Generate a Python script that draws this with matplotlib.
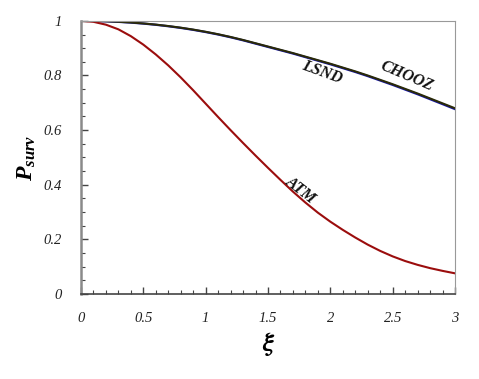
import matplotlib
matplotlib.use("Agg")
import matplotlib.pyplot as plt
from matplotlib.ticker import MultipleLocator

SERIF = 'Liberation Serif'
plt.rcParams['font.family'] = SERIF
plt.rcParams['mathtext.fontset'] = 'custom'
plt.rcParams['mathtext.rm'] = SERIF
plt.rcParams['mathtext.it'] = SERIF + ':italic'
plt.rcParams['mathtext.bf'] = SERIF + ':bold'
plt.rcParams['mathtext.bfit'] = SERIF + ':bold:italic'

# values
xi = [0.0, 0.1, 0.2, 0.3, 0.4, 0.5, 0.6, 0.7, 0.8, 0.9, 1.0,
      1.1, 1.2, 1.3, 1.4, 1.5, 1.6, 1.7, 1.8, 1.9, 2.0,
      2.1, 2.2, 2.3, 2.4, 2.5, 2.6, 2.7, 2.8, 2.9, 3.0]
p_atm = [1.0, 0.9965, 0.986, 0.969, 0.944, 0.913, 0.877, 0.837, 0.793, 0.746, 0.697,
         0.648, 0.600, 0.553, 0.507, 0.462, 0.418, 0.375, 0.335, 0.298, 0.265,
         0.235, 0.207, 0.181, 0.158, 0.138, 0.121, 0.107, 0.095, 0.085, 0.076]
p_lsnd = [1.0, 0.9996, 0.9985, 0.9966, 0.994, 0.9905, 0.9862, 0.981, 0.975, 0.968, 0.960,
          0.951, 0.941, 0.930, 0.918, 0.906, 0.894, 0.882, 0.869, 0.856, 0.843,
          0.829, 0.815, 0.800, 0.784, 0.768, 0.751, 0.734, 0.716, 0.698, 0.680]
p_chooz = [1.0, 0.9995, 0.9983, 0.9963, 0.9936, 0.990, 0.9856, 0.9803, 0.9742, 0.9671, 0.959,
           0.950, 0.9399, 0.9288, 0.9167, 0.9046, 0.8925, 0.8804, 0.8673, 0.8542, 0.8411,
           0.827, 0.8129, 0.7978, 0.7817, 0.7656, 0.7485, 0.7314, 0.7133, 0.6952, 0.677]
xtick_vals = [0, 0.5, 1, 1.5, 2, 2.5, 3]
xtick_text = ['0', '0.5', '1', '1.5', '2', '2.5', '3']
ytick_vals = [0, 0.2, 0.4, 0.6, 0.8, 1]
ytick_text = ['0', '0.2', '0.4', '0.6', '0.8', '1']


def main():
    fig = plt.figure(figsize=(4.79, 3.79), dpi=100)
    ax = fig.add_axes([0.169, 0.224, 0.781, 0.721])

    ax.plot(xi, p_chooz, color='#1414a8', lw=1.6)
    ax.plot(xi, p_lsnd, color='#2a2a08', lw=1.5)
    ax.plot(xi, p_atm, color='#9b0d0d', lw=1.5)

    ax.set_xlim(0, 3)
    ax.set_ylim(0, 1)
    ax.xaxis.set_minor_locator(MultipleLocator(0.1))
    ax.yaxis.set_minor_locator(MultipleLocator(0.05))
    tick_font = dict(family=SERIF, style='italic', size=10.5, color='#222222')
    ax.set_xticks(xtick_vals)
    ax.set_xticklabels(xtick_text, fontdict=tick_font)
    ax.set_yticks(ytick_vals)
    ax.set_yticklabels(ytick_text, fontdict=tick_font)

    ax.tick_params(which='both', direction='in', colors='#444444',
                   labelcolor='#222222')
    ax.tick_params(which='major', length=5, width=1)
    ax.tick_params(which='minor', length=3, width=0.8)
    ax.tick_params(axis='x', pad=13)
    ax.tick_params(axis='y', pad=14)

    ax.spines['left'].set_color('#8a8a8a')
    ax.spines['left'].set_linewidth(1.8)
    ax.spines['bottom'].set_color('#444444')
    ax.spines['bottom'].set_linewidth(1.2)
    ax.spines['top'].set_color('#999999')
    ax.spines['right'].set_color('#999999')

    ax.set_xlabel('ξ', family='STIXGeneral', fontweight='bold',
                  fontstyle='italic', fontsize=19, labelpad=5)
    ax.set_ylabel(r'$\mathbfit{P}_{\mathbfit{surv}}$', fontsize=17, labelpad=4)

    lab_kw = dict(family=SERIF, fontsize=11.5, fontweight='bold',
                  fontstyle='italic', ha='center', va='center', color='#111111')
    ax.text(1.93, 0.812, 'LSND', rotation=-20, **lab_kw)
    ax.text(2.61, 0.797, 'CHOOZ', rotation=-23, **lab_kw)
    ax.text(1.76, 0.381, 'ATM', rotation=-38, **lab_kw)

    fig.savefig('out.png', dpi=100)


if __name__ == "__main__":
    main()
